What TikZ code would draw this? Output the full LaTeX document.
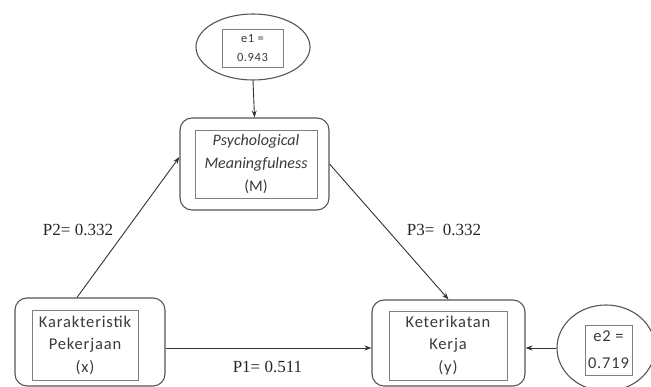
\documentclass[tikz,border=0pt]{standalone}
\usepackage{fontspec}
\setmainfont{Carlito}
\newfontfamily\boxfont[LetterSpace=5]{Carlito}
\newfontfamily\labfont{Liberation Serif}
\usetikzlibrary{shapes.geometric,arrows.meta}
\definecolor{boxline}{HTML}{555555}
\definecolor{innerline}{HTML}{808080}
\definecolor{txt}{HTML}{3A3A3A}
\begin{document}
\begin{tikzpicture}[x=1pt,y=-1pt,
  outerbox/.style={draw=boxline,line width=1.1pt,rounded corners=12pt,inner sep=0pt},
  innerbox/.style={draw=innerline,line width=0.8pt,inner sep=0pt,align=center,
    text=txt,font=\boxfont\fontsize{16.5}{22.5}\selectfont},
  errell/.style={draw=boxline,line width=1.1pt,ellipse,inner sep=0pt},
  conn/.style={draw=black!80,line width=0.9pt,-{Stealth[length=7pt,width=5pt]}},
  plabel/.style={font=\labfont\fontsize{17}{20}\selectfont,text=black!85,inner sep=0pt}]
\useasboundingbox (0,0) rectangle (651,387);
% e1
\node[errell,minimum width=114pt,minimum height=66pt] (e1o) at (253,47) {};
\node[innerbox,minimum width=61pt,minimum height=38pt,font=\boxfont\fontsize{12.5}{19}\selectfont] (e1i) at (252.5,48) {e1 =\\0.943};
% M
\node[outerbox,minimum width=149pt,minimum height=92pt] (mo) at (254.5,164) {};
\node[innerbox,minimum width=122pt,minimum height=68pt,font=\fontsize{16}{23}\selectfont] (mi) at (256,164) {\itshape Psychological\\\itshape Meaningfulness\\(M)};
% X
\node[outerbox,minimum width=150pt,minimum height=88pt] (xo) at (90,342) {};
\node[innerbox,minimum width=106pt,minimum height=70pt] (xi) at (85,345) {Karakteristik\\Pekerjaan\\(x)};
% Y
\node[outerbox,minimum width=153pt,minimum height=86pt] (yo) at (448.5,343) {};
\node[innerbox,minimum width=118pt,minimum height=69pt] (yi) at (448,345.5) {Keterikatan\\Kerja\\(y)};
% e2
\node[errell,minimum width=98pt,minimum height=86pt] (e2o) at (606,348) {};
\node[innerbox,minimum width=47pt,minimum height=50pt,font=\boxfont\fontsize{16.5}{27}\selectfont] (e2i) at (608.5,350) {e2 =\\0.719};
% connectors
\draw[conn] (e1o.south) -- (mo.north);
\draw[conn] ([xshift=-13pt]xo.north) -- ([yshift=7pt]mo.west);
\draw[conn] (mo.east) -- (yo.north);
\draw[conn] ([yshift=-6pt]xo.east) -- ([yshift=-5pt]yo.west);
\draw[conn] (e2o.west) -- ([yshift=-5pt]yo.east);
% labels
\node[plabel] (p2) at (78,230) {P2= 0.332};
\node[plabel] (p3) at (444,230) {P3=\ \ 0.332};
\node[plabel] (p1) at (267.5,367) {P1= 0.511};
\end{tikzpicture}
\end{document}
